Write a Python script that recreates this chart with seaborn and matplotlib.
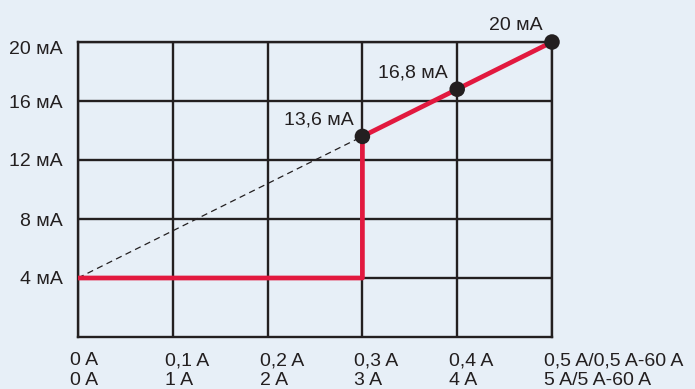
import matplotlib
matplotlib.use('Agg')
import matplotlib.pyplot as plt
import pandas as pd
import seaborn as sns

# Характеристика: первичный ток -> выходной токовый сигнал
x_ticks = [0.0, 0.1, 0.2, 0.3, 0.4, 0.5]
x_labels_top = ['0 A', '0,1 A', '0,2 A', '0,3 A', '0,4 A', '0,5 A/0,5 A-60 A']
x_labels_bottom = ['0 A', '1 A', '2 A', '3 A', '4 A', '5 A/5 A-60 A']
y_ticks = [4, 8, 12, 16, 20]
y_labels = ['4 мА', '8 мА', '12 мА', '16 мА', '20 мА']

curve_x = [0.0, 0.3, 0.3, 0.4, 0.5]
curve_y = [4.0, 4.0, 13.6, 16.8, 20.0]
dash_x = [0.0, 0.3]
dash_y = [4.0, 13.6]
pts_x = [0.3, 0.4, 0.5]
pts_y = [13.6, 16.8, 20.0]
pts_labels = ['13,6 мА', '16,8 мА', '20 мА']

bg = '#E7EFF7'
ink = '#231F20'
red = '#E2193F'
fs = 14

sns.set_style('white', {'axes.facecolor': bg, 'figure.facecolor': bg})
plt.rcParams['font.family'] = ['Liberation Sans', 'DejaVu Sans']

fig = plt.figure(figsize=(6.95, 3.89), dpi=100)
ax = fig.add_axes([78 / 695, 1 - 337 / 389, 474 / 695, 295 / 389])

for xv in x_ticks:
    ax.axvline(xv, color=ink, lw=1.7, zorder=1)
for yv in y_ticks:
    ax.axhline(yv, color=ink, lw=1.7, zorder=1)

curve = pd.DataFrame({'x': curve_x, 'y': curve_y})
dash = pd.DataFrame({'x': dash_x, 'y': dash_y})
pts = pd.DataFrame({'x': pts_x, 'y': pts_y})

sns.lineplot(data=dash, x='x', y='y', ax=ax, color=ink, lw=0.9,
             linestyle=(0, (5, 3.5)), sort=False, estimator=None, zorder=2)
sns.lineplot(data=curve, x='x', y='y', ax=ax, color=red, lw=3.4,
             sort=False, estimator=None, zorder=3)
sns.scatterplot(data=pts, x='x', y='y', ax=ax, color=ink, s=125,
                edgecolor='none', zorder=4, clip_on=False)

for xv, yv, lab in zip(pts_x, pts_y, pts_labels):
    ax.annotate(lab, (xv, yv), xytext=(-9, 12), textcoords='offset pixels',
                ha='right', va='baseline', fontsize=fs, color=ink)

ax.set_xlim(0, 0.5)
ax.set_ylim(0, 20)
ax.set_xticks(x_ticks)
ax.set_xticklabels([])
ax.set_yticks(y_ticks)
ax.set_yticklabels([])
ax.tick_params(length=0)
ax.set_xlabel('')
ax.set_ylabel('')

# подписи осей текстом, со сдвигом как в оригинале
xtr = ax.get_xaxis_transform()
for xv, a, b in zip(x_ticks, x_labels_top, x_labels_bottom):
    ax.annotate(f'{a}\n{b}', (xv, 0), xycoords=xtr, xytext=(-8, -15),
                textcoords='offset pixels', ha='left', va='top',
                fontsize=fs, color=ink, linespacing=1.22, annotation_clip=False)
ytr = ax.get_yaxis_transform()
for yv, lab in zip(y_ticks, y_labels):
    dy = -6 if yv == 20 else 0
    ax.annotate(lab, (0, yv), xycoords=ytr, xytext=(-15, dy),
                textcoords='offset pixels', ha='right', va='center_baseline',
                fontsize=fs, color=ink, annotation_clip=False)

for sp in ax.spines.values():
    sp.set_color(ink)
    sp.set_linewidth(1.7)

fig.savefig('out.png', dpi=100, facecolor=bg)
